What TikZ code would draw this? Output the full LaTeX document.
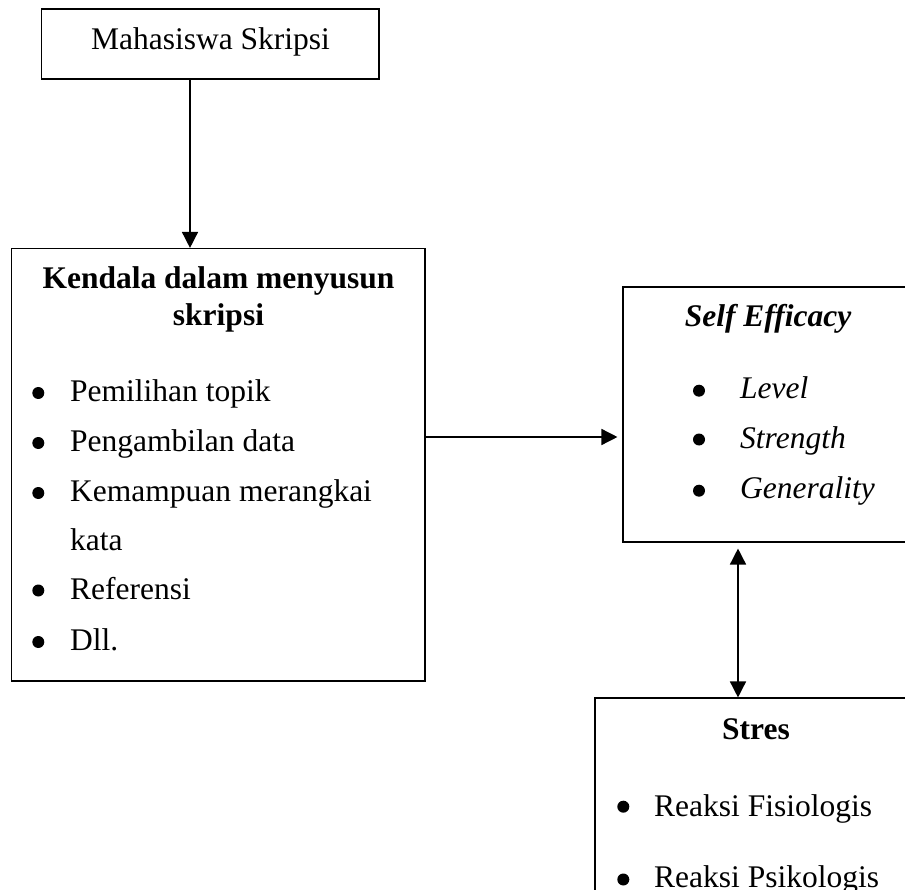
\documentclass[tikz,border=0pt]{standalone}
\usepackage{fontspec}
\setmainfont{Liberation Serif}
\usetikzlibrary{arrows.meta}
\begin{document}
\begin{tikzpicture}[x=1pt,y=-1pt,
  box/.style={draw=black, line width=1.1pt, rectangle, inner sep=0pt},
  txt/.style={inner sep=0pt, font=\fontsize{31.5}{38}\selectfont},
  dot/.style={circle, fill=black, draw=none, inner sep=0pt, minimum size=12pt},
  arr/.style={line width=1.5pt, -{Triangle[length=16pt,width=16pt]}},
  darr/.style={line width=1.5pt, {Triangle[length=16pt,width=16pt]}-{Triangle[length=16pt,width=16pt]}}]
\useasboundingbox (0,0) rectangle (905,890);
\clip (0,0) rectangle (905,890);
% boxes
\node[box, minimum width=337.5pt, minimum height=70pt] (mhs) at (210.25,44) {};
\node[box, minimum width=413.5pt, minimum height=432.5pt] (kend) at (218.25,464.75) {};
\node[box, minimum width=297pt, minimum height=255pt] (se) at (771.5,414.5) {};
\node[box, minimum width=325pt, minimum height=202pt] (st) at (757.5,799) {};
% texts
\node[txt, anchor=base] (tmhs) at (210.5,50) {Mahasiswa Skripsi};
\node[txt, anchor=base, font=\fontsize{31.5}{38}\selectfont\bfseries] (tk1) at (218.5,289) {Kendala dalam menyusun};
\node[txt, anchor=base, font=\fontsize{31.5}{38}\selectfont\bfseries] (tk2) at (218.5,325.7) {skripsi};
\node[dot] (bk1) at (38.3,393) {};
\node[dot] (bk2) at (38.3,443) {};
\node[dot] (bk3) at (38.3,493) {};
\node[dot] (bk4) at (38.3,590.5) {};
\node[dot] (bk5) at (38.3,642) {};
\node[txt, anchor=base west] (k1) at (70,401.7) {Pemilihan topik};
\node[txt, anchor=base west] (k2) at (70,451.7) {Pengambilan data};
\node[txt, anchor=base west] (k3) at (70,501.7) {Kemampuan merangkai};
\node[txt, anchor=base west] (k3b) at (70,550.3) {kata};
\node[txt, anchor=base west] (k4) at (70,599) {Referensi};
\node[txt, anchor=base west] (k5) at (70,650.7) {Dll.};
% self efficacy
\node[txt, anchor=base, font=\fontsize{31.5}{38}\selectfont\bfseries\itshape] (tse) at (768,326.7) {Self Efficacy};
\node[dot] (bs1) at (699,390.7) {};
\node[dot] (bs2) at (699,439.5) {};
\node[dot] (bs3) at (699,490.7) {};
\node[txt, anchor=base west, font=\fontsize{31.5}{38}\selectfont\itshape] (s1) at (740,398.3) {Level};
\node[txt, anchor=base west, font=\fontsize{31.5}{38}\selectfont\itshape] (s2) at (740,448) {Strength};
\node[txt, anchor=base west, font=\fontsize{31.5}{38}\selectfont\itshape] (s3) at (740,498.3) {Generality};
% stres
\node[txt, anchor=base, font=\fontsize{31.5}{38}\selectfont\bfseries] (tst) at (756,739.3) {Stres};
\node[dot] (bt1) at (623.3,806.7) {};
\node[dot] (bt2) at (623.3,879.5) {};
\node[txt, anchor=base west] (t1) at (654,816.7) {Reaksi Fisiologis};
\node[txt, anchor=base west] (t2) at (654,887.5) {Reaksi Psikologis};
% connectors
\coordinate (vx) at (190,0);
\coordinate (dx) at (738,0);
\coordinate (hy) at (0,437);
\draw[arr] (vx |- mhs.south) -- (vx |- kend.north);
\draw[arr, shorten >=5pt] (kend.east |- hy) -- (se.west |- hy);
\draw[darr, shorten <=6pt] (dx |- se.south) -- (dx |- st.north);
\end{tikzpicture}
\end{document}
